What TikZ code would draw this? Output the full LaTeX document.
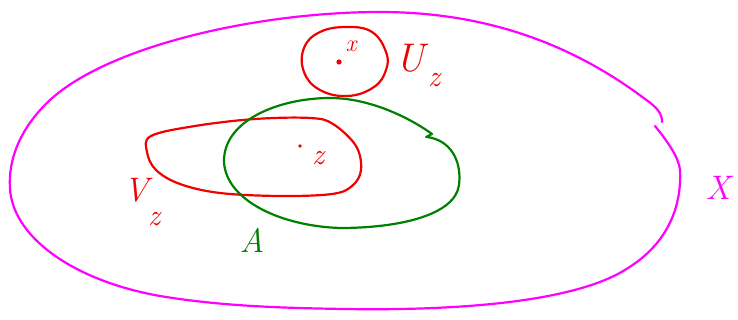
\documentclass[tikz,border=0pt]{standalone}
\usepackage{tikz}

\definecolor{penred}{RGB}{240,0,0}
\definecolor{pengreen}{RGB}{0,128,0}
\definecolor{penmag}{RGB}{255,0,255}

\tikzset{
  pen/.style={line width=2.2pt, line cap=round, line join=round},
  handlbl/.style={anchor=center, inner sep=0pt, font=\fontsize{#1}{#1}\selectfont\itshape}
}

\begin{document}
\begin{tikzpicture}[x=1pt, y=-1pt, pen]

  %% ════ 外围 X（右上留缺口）════
  \draw[penmag] (662,122) .. controls (662,114) and (658,108) .. (645,99)
    .. controls (560,35) and (470,12) .. (380,12)
    .. controls (260,12) and (110,45) .. (50,100)
    .. controls (20,128) and (8,160) .. (10,188)
    .. controls (12,235) and (70,280) .. (160,296)
    .. controls (220,306) and (280,308) .. (345,309)
    .. controls (470,311) and (580,300) .. (628,268)
    .. controls (665,245) and (682,210) .. (680,170)
    .. controls (679,158) and (668,142) .. (655,126);

  %% ════ U_z 圆 ════
  \draw[penred] plot[smooth cycle, tension=0.7] coordinates {
    (347,27) (372,32) (386,52) (386,70) (374,87) (348,96) (320,90)
    (304,72) (304,48) (320,32)};
  \fill[penred] (339,62) circle (2.6);

  %% ════ V_z 长圈 ════
  \draw[penred] plot[smooth cycle, tension=0.6] coordinates {
    (151,136) (195,126) (255,119) (310,118) (333,124) (356,146) (361,170)
    (352,186) (332,194) (280,196) (220,193) (180,184) (156,170) (147,152)};

  %% ════ A 圈（绿）════
  \draw[pengreen] (427,137) .. controls (450,140) and (462,160) .. (459,185)
    .. controls (455,215) and (400,228) .. (340,228)
    .. controls (280,226) and (226,200) .. (224,162)
    .. controls (223,120) and (280,98) .. (330,98)
    .. controls (370,98) and (410,118) .. (432,134) -- (426,137);
  \fill[penred] (300,146) circle (1.8);

  %% ════ 标签 ════
  \node[handlbl=24, text=penred] (xlbl) at (351,46) {x};
  \node[handlbl=30, text=penred] (zlbl) at (318,158) {z};
  \node[handlbl=40, text=penred] (Ulbl) at (410,58) {U};
  \node[handlbl=30, text=penred] (Uzlbl) at (434,80) {z};
  \node[handlbl=34, text=penred] (Vlbl) at (136,190) {V};
  \node[handlbl=30, text=penred] (Vzlbl) at (154,219) {z};
  \node[handlbl=34, text=pengreen] (Albl) at (252,240) {A};
  \node[handlbl=34, text=penmag] (Xlbl) at (718,188) {X};

  \pgfresetboundingbox
  \path[use as bounding box] (0,0) rectangle (738,320);
\end{tikzpicture}
\end{document}
